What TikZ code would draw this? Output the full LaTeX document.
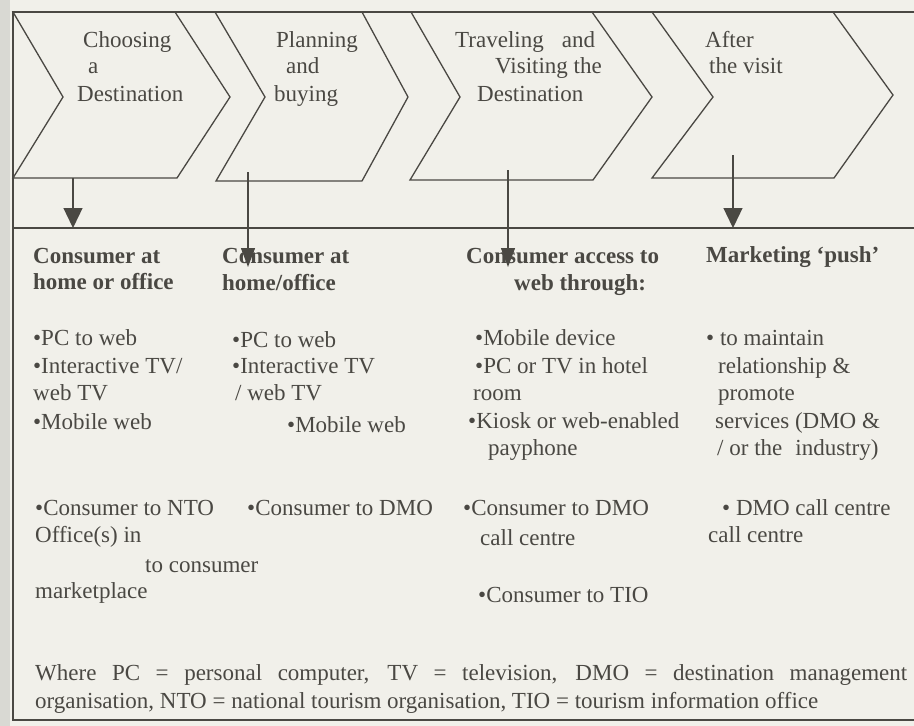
\documentclass[tikz,border=0pt]{standalone}
\usepackage{fontspec}
\setmainfont{Liberation Serif}
\usetikzlibrary{arrows.meta}
\definecolor{paper}{HTML}{F1F0EA}
\definecolor{ink}{HTML}{4A4843}
\definecolor{pageedge}{HTML}{D9D9D3}

\begin{document}
\begin{tikzpicture}[x=1pt,y=-1pt,
  txt/.style={anchor=base west,inner sep=0pt,text=ink,font=\fontsize{23}{27}\selectfont},
  hdr/.style={anchor=base west,inner sep=0pt,text=ink,font=\fontsize{23}{27}\selectfont\bfseries},
  outline/.style={draw=ink,line width=1.3pt,line join=miter},
  bigarrow/.style={draw=ink,line width=1.3pt,-{Triangle[width=19pt,length=20pt]}},
  midarrow/.style={draw=ink,line width=1.3pt,-{Triangle[width=14pt,length=19pt]}},
]
\useasboundingbox (0,0) rectangle (914,726);
\clip (0,0) rectangle (914,726);
\fill[paper] (0,0) rectangle (914,726);
\fill[pageedge] (0,0) rectangle (10,726);

% outer frame and divider
\draw[outline] (930,12) -- (13,12) -- (13,720) -- (930,720);
\draw[outline] (13,228) -- (930,228);

% the four stage chevrons
\draw[outline] (13,12) -- (175,12) -- (230,97) -- (177,178) -- (13,178) -- (63,97) -- cycle;
\draw[outline] (215,12) -- (362,12) -- (408,97) -- (362,181) -- (216,181) -- (265,97) -- cycle;
\draw[outline] (411,12) -- (592,12) -- (652,97) -- (593,180) -- (410,180) -- (460,97) -- cycle;
\draw[outline] (652,12) -- (833,12) -- (893,95) -- (834,178) -- (652,178) -- (713,97) -- cycle;

% stage titles
\node[txt] (c1a) at (83,47) {Choosing};
\node[txt] (c1b) at (88,73) {a};
\node[txt] (c1c) at (77,101) {Destination};
\node[txt] (c2a) at (276,47) {Planning};
\node[txt] (c2b) at (286,73) {and};
\node[txt] (c2c) at (274,101) {buying};
\node[txt] (c3a) at (455,47) {Traveling\hspace{18pt}and};
\node[txt] (c3b) at (495,73) {Visiting the};
\node[txt] (c3c) at (477,101) {Destination};
\node[txt] (c4a) at (705,47) {After};
\node[txt] (c4b) at (709,73) {the visit};

% column headings
\node[hdr] (h1a) at (33,263) {Consumer at};
\node[hdr] (h1b) at (33,289) {home or office};
\node[hdr] (h2a) at (222,263) {Consumer at};
\node[hdr] (h2b) at (222,290) {home/office};
\node[hdr] (h3a) at (466,263) {Consumer access to};
\node[hdr] (h3b) at (514,290) {web through:};
\node[hdr] (h4a) at (706,262) {Marketing ‘push’};

% column 1
\node[txt] (p1a) at (33,345) {•PC to web};
\node[txt] (p1b) at (33,373) {•Interactive TV/};
\node[txt] (p1c) at (33,400) {web TV};
\node[txt] (p1d) at (33,429) {•Mobile web};
\node[txt] (q1a) at (35,515) {•Consumer to NTO};
\node[txt] (q1b) at (35,542) {Office(s) in};
\node[txt] (q1c) at (145,572) {to consumer};
\node[txt] (q1d) at (35,598) {marketplace};

% column 2
\node[txt] (p2a) at (232,347) {•PC to web};
\node[txt] (p2b) at (232,373) {•Interactive TV};
\node[txt] (p2c) at (235,400) {/ web TV};
\node[txt] (p2d) at (287,432) {•Mobile web};
\node[txt] (q2a) at (247,515) {•Consumer to DMO};

% column 3
\node[txt] (p3a) at (475,345) {•Mobile device};
\node[txt] (p3b) at (475,373) {•PC or TV in hotel};
\node[txt] (p3c) at (473,400) {room};
\node[txt] (p3d) at (468,428) {•Kiosk or web-enabled};
\node[txt] (p3e) at (488,455) {payphone};
\node[txt] (q3a) at (463,515) {•Consumer to DMO};
\node[txt] (q3b) at (480,545) {call centre};
\node[txt] (q3c) at (478,602) {•Consumer to TIO};

% column 4
\node[txt] (p4a) at (706,345) {• to maintain};
\node[txt] (p4b) at (718,373) {relationship \&};
\node[txt] (p4c) at (718,400) {promote};
\node[txt] (p4d) at (715,428) {services (DMO \&};
\node[txt] (p4e) at (717,455) {/ or the\hspace{13pt}industry)};
\node[txt] (q4a) at (722,515) {• DMO call centre};
\node[txt] (q4b) at (708,542) {call centre};

% key to abbreviations
\node[txt] (k1) at (35,680) {\makebox[872pt][s]{Where PC = personal computer, TV = television, DMO = destination management}};
\node[txt] (k2) at (35,708) {organisation, NTO = national tourism organisation, TIO = tourism information office};

% arrows from the stages down to the channels
\coordinate (a1s) at (73,178);  \coordinate (a1e) at (73,228);
\coordinate (a2s) at (248,172); \coordinate (a2e) at (248,267);
\coordinate (a3s) at (508,170); \coordinate (a3e) at (508,267);
\coordinate (a4s) at (733,155); \coordinate (a4e) at (733,228);
\draw[bigarrow] (a1s) -- (a1e);
\draw[midarrow] (a2s) -- (a2e);
\draw[midarrow] (a3s) -- (a3e);
\draw[bigarrow] (a4s) -- (a4e);
\end{tikzpicture}
\end{document}
